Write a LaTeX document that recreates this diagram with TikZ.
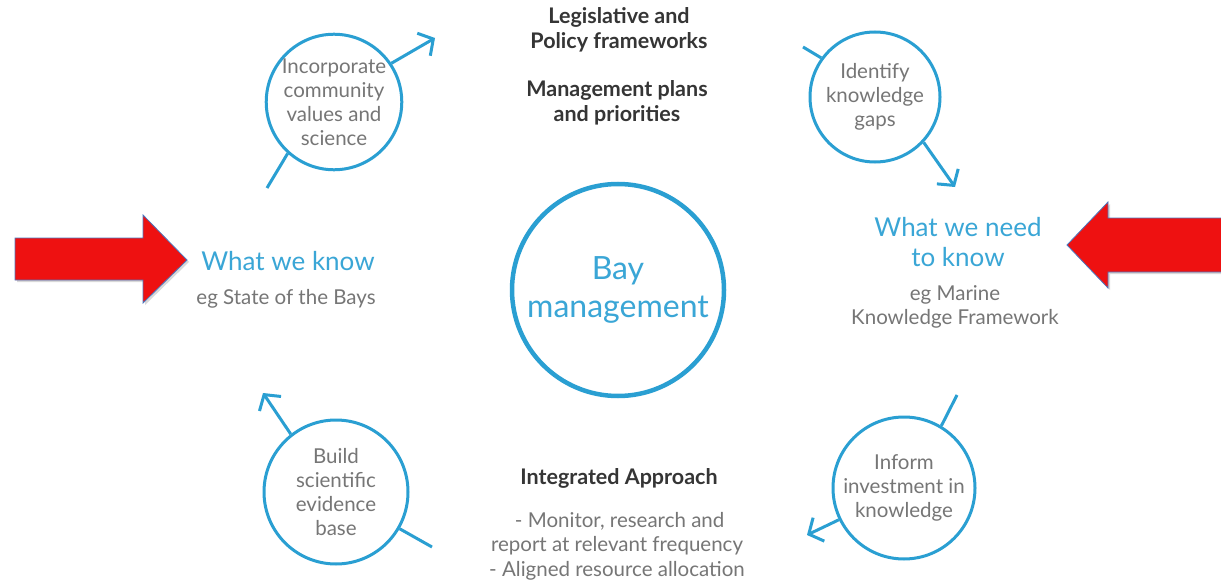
\documentclass[tikz,border=0pt]{standalone}
\usepackage{fontspec}
\setmainfont{Lato}
\usetikzlibrary{arrows.meta,shadows}
\definecolor{cblue}{HTML}{2A9FD2}
\definecolor{tblue}{HTML}{3AA6D6}
\definecolor{tgray}{HTML}{767676}
\definecolor{bgray}{HTML}{353535}
\definecolor{ared}{HTML}{EE1111}
\definecolor{aedge}{HTML}{4A78C0}
\tikzset{
  small/.style={circle,draw=cblue,line width=3pt,fill=white,minimum size=#1,inner sep=0pt,align=center,
    font=\fontsize{20.5}{24}\selectfont,text=tgray},
  big/.style={circle,draw=cblue,line width=4.5pt,fill=white,minimum size=212pt,inner sep=0pt,align=center,
    font=\fontsize{32}{38}\selectfont,text=tblue},
  flow/.style={draw=cblue,line width=3pt},
  flowtip/.style={flow,-{Straight Barb[length=11pt,width=26pt,line width=3pt]}},
  bluetxt/.style={align=center,font=\fontsize{26}{30}\selectfont,text=tblue},
  graytxt/.style={align=center,font=\fontsize{20.5}{24.5}\selectfont,text=tgray},
  boldtxt/.style={align=center,font=\bfseries\fontsize{21.5}{24.5}\selectfont,text=bgray},
  redarrow/.style={fill=ared,draw=aedge,line width=0.8pt,drop shadow={shadow xshift=2pt,shadow yshift=-2pt,opacity=0.3}}
}
\begin{document}
\begin{tikzpicture}[x=1pt,y=-1pt]
\useasboundingbox[fill=white] (0,0) rectangle (1221,583);
% free ends of the cycle segments
\coordinate (a1s) at (267,188);
\coordinate (a1e) at (435,38);
\coordinate (a2s) at (803,47);
\coordinate (a2e) at (955,187);
\coordinate (a3s) at (957,395);
\coordinate (a3e) at (807,535);
\coordinate (a4s) at (432,547);
\coordinate (a4e) at (263,393);
% circles
\node[small=134pt] (c1) at (334,102) {Incorporate\\community\\values and\\science};
\node[small=130pt] (c2) at (875,97) {Identify\\knowledge\\gaps};
\node[small=142pt] (c3) at (904,488) {Inform\\investment in\\knowledge};
\node[small=144pt] (c4) at (336,492) {Build\\scientific\\evidence\\base};
\node[big] (bay) at (618,290) {Bay\\management};
% connectors
\draw[flow] (a1s) -- (c1.228);
\draw[flowtip] (c1.34) -- (a1e);
\draw[flow] (a2s) -- (c2.144);
\draw[flowtip] (c2.-43) -- (a2e);
\draw[flow] (a3s) -- (c3.59);
\draw[flowtip] (c3.206) -- (a3e);
\draw[flow] (a4s) -- (c4.-30);
\draw[flowtip] (c4.128) -- (a4e);
% texts
\node[boldtxt] (leg) at (619,30) {Legislative and\\Policy frameworks};
\node[boldtxt] (man) at (617,103) {Management plans\\and priorities};
\node[bluetxt] (wwk) at (288,261) {What we know};
\node[graytxt] (egs) at (286,299) {eg State of the Bays};
\node[bluetxt] (wwn) at (958,242) {What we need\\to know};
\node[graytxt] (egm) at (955,307) {eg Marine\\Knowledge Framework};
\node[boldtxt] (ia) at (619,478) {Integrated Approach};
\node[graytxt] (ial) at (617,546) {\ - Monitor, research and\\report at relevant frequency\\- Aligned resource allocation};
% red arrows
\draw[redarrow] (15,238) -- (143,238) -- (143,215) -- (187,260) -- (143,303) -- (143,280) -- (15,280) -- cycle;
\draw[redarrow] (1226,218) -- (1108,218) -- (1108,202) -- (1067,245) -- (1108,288) -- (1108,272) -- (1226,272) -- cycle;
\end{tikzpicture}
\end{document}
